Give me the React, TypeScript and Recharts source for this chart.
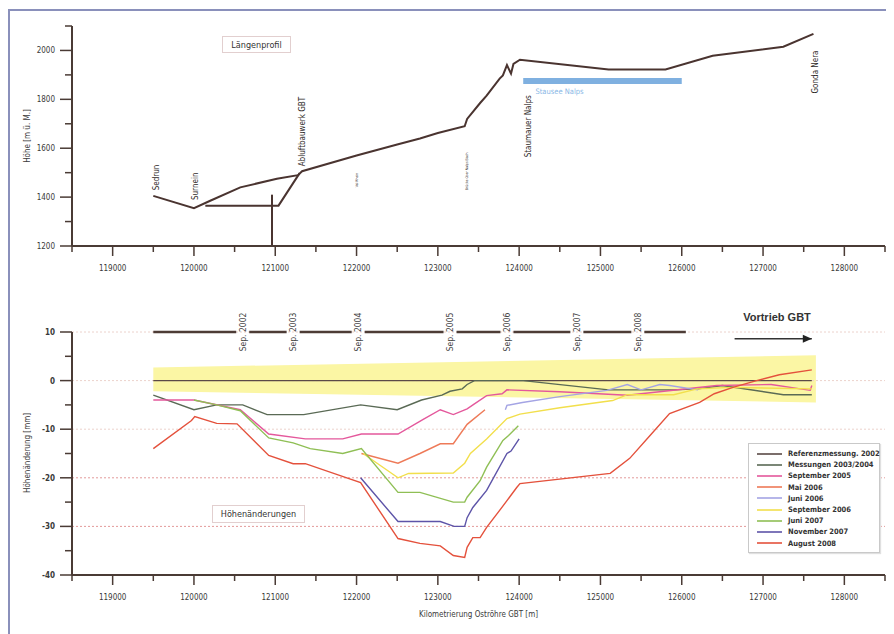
import React from "react";
import {
  ComposedChart,
  Line,
  Area,
  Scatter,
  XAxis,
  YAxis,
  ReferenceLine,
  Legend,
} from "recharts";

const AXIS = "#4a3b35";
const TEXT = "#3a3a3a";
const FONT = "'DejaVu Sans Condensed', 'DejaVu Sans', sans-serif";

// shared km axis
const kmTicks = [
  118500, 119000, 119500, 120000, 120500, 121000, 121500, 122000, 122500, 123000, 123500,
  124000, 124500, 125000, 125500, 126000, 126500, 127000, 127500, 128000, 128500,
];

// ---- Längenprofil ----
const heightTicks = [1200, 1300, 1400, 1500, 1600, 1700, 1800, 1900, 2000, 2100];

const profile: [number, number][] = [
  [119500, 1405], [120000, 1355], [120200, 1385], [120570, 1440], [121020, 1475],
  [121280, 1490], [121330, 1506], [122000, 1570], [122500, 1615], [122780, 1640],
  [123000, 1662], [123330, 1690], [123360, 1720], [123520, 1785], [123600, 1815],
  [123760, 1885], [123800, 1898], [123850, 1940], [123900, 1905], [123930, 1945],
  [124010, 1962], [125100, 1922], [125800, 1922], [126380, 1978], [127250, 2015],
  [127620, 2068],
];
const shaftLine: [number, number][] = [[120140, 1365], [121040, 1365], [121300, 1498]];
const shaftVertical: [number, number][] = [[120960, 1200], [120960, 1410]];
const lakeBar: [number, number][] = [[124050, 1875], [126000, 1875]];

const places = [
  { name: "Sedrun", x: 119545, y: 1428, size: 8 },
  { name: "Surnein", x: 120025, y: 1388, size: 8 },
  { name: "Abluftbauwerk GBT", x: 121340, y: 1526, size: 8 },
  { name: "Val Rhein", x: 122005, y: 1440, size: 3.5 },
  { name: "Brücke über Nalps Bach", x: 123360, y: 1428, size: 3.5 },
  { name: "Staumauer Nalps", x: 124110, y: 1563, size: 8 },
  { name: "Gonda Nera", x: 127640, y: 1824, size: 8 },
];
const lakeLabel = [{ name: "Stausee Nalps", x: 124200, y: 1822 }];

// ---- Höhenänderungen ----
const changeTicks = [-40, -35, -30, -25, -20, -15, -10, -5, 0, 5, 10];
const gridValues = [-30, -20, -10, 0, 10];

const sepMarks = [
  { label: "Sep. 2002", x: 120600 },
  { label: "Sep. 2003", x: 121220 },
  { label: "Sep. 2004", x: 122020 },
  { label: "Sep. 2005", x: 123150 },
  { label: "Sep. 2006", x: 123850 },
  { label: "Sep. 2007", x: 124710 },
  { label: "Sep. 2008", x: 125460 },
];
const timelineStart = 119500;
const timelineEnd = 126050;

const toleranceBand: [number, number, number][] = [
  [119500, -2.2, 2.7],
  [127650, -4.5, 5.2],
];
const vortriebArrow: [number, number][] = [[126650, 8.6], [127600, 8.6]];

const referenz2002: [number, number][] = [[119500, 0], [127600, 0]];
const messungen0304: [number, number][] = [
  [119500, -3], [120000, -6], [120280, -5], [120600, -5], [120900, -7], [121350, -7],
  [122050, -5], [122500, -6], [122800, -4], [123050, -3], [123150, -2.2], [123300, -1.7],
  [123360, -0.8], [123450, 0], [124050, 0], [125100, -1.9], [125900, -1.9], [126200, -1.7],
  [126500, -1], [127250, -2.9], [127600, -2.9],
];
const sep2005: [number, number][] = [
  [119500, -4], [120000, -4], [120570, -6], [120920, -11], [121370, -12], [121830, -12],
  [122060, -11], [122510, -11], [122820, -8], [123030, -6], [123190, -7], [123360, -5.8],
  [123450, -4.8], [123600, -3.1], [123790, -2.7], [123850, -1.9], [124500, -2.3],
  [125330, -3], [126430, -1], [127100, -0.8], [127580, -2], [127600, -1],
];
const mai2006: [number, number][] = [
  [122060, -15], [122510, -17], [122780, -15], [123030, -13], [123190, -13],
  [123360, -9], [123580, -6],
];
const juni2006: [number, number][] = [
  [123830, -6], [123850, -5.1], [124040, -4.5], [124500, -3.3], [125080, -2],
  [125330, -0.8], [125500, -1.9], [125730, -0.8], [125850, -1], [126200, -1.9],
];
const sep2006: [number, number][] = [
  [122080, -15], [122510, -20], [122640, -19.1], [123190, -19], [123330, -17],
  [123400, -15], [123600, -12], [123850, -7.8], [124010, -6.9], [124500, -5.6],
  [125150, -4.1], [125330, -2.9], [125900, -2.9], [126190, -1.7], [126600, -1.4],
  [127600, -1.7],
];
const juni2007: [number, number][] = [
  [120000, -4], [120280, -5], [120570, -6.2], [120920, -11.8], [121220, -12.8],
  [121430, -14], [121830, -15], [122060, -14], [122510, -23], [122780, -23],
  [123190, -25], [123330, -25], [123360, -24], [123520, -20.6], [123600, -17.8],
  [123800, -12.3], [123870, -11.3], [123990, -9.3],
];
const nov2007: [number, number][] = [
  [122050, -20], [122510, -29], [123030, -29], [123200, -30], [123330, -30],
  [123360, -28.2], [123430, -26.1], [123600, -22.6], [123850, -15], [123900, -14.5],
  [124000, -12],
];
const aug2008: [number, number][] = [
  [119500, -14], [119970, -8.2], [120010, -7.4], [120280, -8.8], [120530, -8.9],
  [120920, -15.4], [121220, -17.1], [121370, -17.1], [121880, -20], [122050, -21],
  [122510, -32.5], [122780, -33.5], [123030, -34], [123190, -36], [123330, -36.4],
  [123360, -34.3], [123430, -32.3], [123520, -32.3], [123600, -30.2], [123760, -26.7],
  [123850, -24.7], [123970, -22], [124010, -21.2], [125120, -19.1], [125360, -16],
  [125610, -11.3], [125850, -6.8], [126220, -4.5], [126400, -2.7], [126630, -1.4],
  [126920, 0], [127200, 1.2], [127600, 2.2],
];

const series = [
  { name: "Referenzmessung. 2002", data: referenz2002, color: "#5b4a47" },
  { name: "Messungen 2003/2004", data: messungen0304, color: "#5a6a55" },
  { name: "September 2005", data: sep2005, color: "#e4589c" },
  { name: "Mai 2006", data: mai2006, color: "#ee7a58" },
  { name: "Juni 2006", data: juni2006, color: "#a4a4e4" },
  { name: "September 2006", data: sep2006, color: "#f2df4c" },
  { name: "Juni 2007", data: juni2007, color: "#8fbf55" },
  { name: "November 2007", data: nov2007, color: "#5d54a8" },
  { name: "August 2008", data: aug2008, color: "#e4513c" },
];

const pts = (arr: [number, number][]) => arr.map(([x, y]) => ({ x, y }));

const timeline = (() => {
  const out: { x: number; y: number | null }[] = [{ x: timelineStart, y: 10 }];
  sepMarks.forEach((m) => {
    out.push({ x: m.x - 80, y: 10 }, { x: m.x, y: null }, { x: m.x + 80, y: 10 });
  });
  out.push({ x: timelineEnd, y: 10 });
  return out;
})();

function KmTick(props: any) {
  const { x, y, payload } = props;
  const v = payload.value;
  const major = v % 1000 === 0;
  const labeled = major && v >= 119000 && v <= 128000;
  return (
    <g>
      <line x1={x} x2={x} y1={y} y2={y + (major ? 10 : 6)} stroke={AXIS} strokeWidth={1.5} />
      {labeled && (
        <text x={x} y={y + 25} textAnchor="middle" fontSize={8} fill={TEXT} fontFamily={FONT}>
          {v}
        </text>
      )}
    </g>
  );
}

function makeYTick(isMajor: (v: number) => boolean, bold: boolean) {
  return function YTick(props: any) {
    const { x, y, payload } = props;
    const v = payload.value;
    const major = isMajor(v);
    return (
      <g>
        <line x1={x - (major ? 12 : 7)} x2={x} y1={y} y2={y} stroke={AXIS} strokeWidth={1.5} />
        {major && (
          <text
            x={x - 17}
            y={y}
            dy={3}
            textAnchor="end"
            fontSize={8}
            fontWeight={bold ? 600 : 400}
            fill={TEXT}
            fontFamily={FONT}
          >
            {v}
          </text>
        )}
      </g>
    );
  };
}
const HeightTick = makeYTick((v) => v % 200 === 0 && v <= 2000, false);
const ChangeTick = makeYTick((v) => v % 10 === 0, true);

function AxisTitle({ text, cy }: { text: string; cy: number }) {
  return (
    <text
      x={27}
      y={cy}
      transform={`rotate(-90 27 ${cy})`}
      textAnchor="middle"
      dominantBaseline="central"
      fontSize={8}
      fill={TEXT}
      fontFamily={FONT}
    >
      {text}
    </text>
  );
}

function PlaceLabel(props: any) {
  const { cx, cy, payload } = props;
  return (
    <text
      x={cx}
      y={cy}
      transform={`rotate(-90 ${cx} ${cy})`}
      textAnchor="start"
      dominantBaseline="central"
      fontSize={payload.size}
      fill="#2e2a28"
      fontFamily={FONT}
    >
      {payload.name}
    </text>
  );
}

function LakeLabel(props: any) {
  const { cx, cy, payload } = props;
  return (
    <text x={cx} y={cy} fontSize={7.5} fill="#8ab8e6" fontFamily={FONT}>
      {payload.name}
    </text>
  );
}

function SepLabel(props: any) {
  const { cx, cy, payload } = props;
  return (
    <text
      x={cx}
      y={cy}
      transform={`rotate(-90 ${cx} ${cy})`}
      textAnchor="middle"
      dominantBaseline="central"
      fontSize={8.5}
      fill="#444"
      fontFamily={FONT}
    >
      {payload.label}
    </text>
  );
}

function ArrowDot(props: any) {
  const { cx, cy, index } = props;
  if (index !== vortriebArrow.length - 1) return <g key={index} />;
  return <path key={index} d={`M${cx - 9},${cy - 4} L${cx},${cy} L${cx - 9},${cy + 4} Z`} fill="#222" />;
}

function LegendBox() {
  return (
    <div
      style={{
        border: "1px solid #c9c9c9",
        boxShadow: "1px 1px 1px #e0e0e0",
        background: "#fff",
        padding: "4px 4px 3px 8px",
        width: 132,
        boxSizing: "border-box",
      }}
    >
      {series.map((s) => (
        <div key={s.name} style={{ display: "flex", alignItems: "center", height: 11.2 }}>
          <svg width={25} height={4} style={{ marginRight: 6, flex: "none" }}>
            <line x1={0} x2={25} y1={2} y2={2} stroke={s.color} strokeWidth={1.6} />
          </svg>
          <span
            style={{
              fontSize: 7.5,
              color: "#333",
              fontFamily: FONT,
              fontWeight: 600,
              whiteSpace: "nowrap",
            }}
          >
            {s.name}
          </span>
        </div>
      ))}
    </div>
  );
}

const boxStyle: React.CSSProperties = {
  position: "absolute",
  border: "1px solid #e2cfcf",
  background: "#fff",
  fontFamily: FONT,
  fontSize: 9,
  color: "#333",
  display: "flex",
  alignItems: "center",
  justifyContent: "center",
  boxSizing: "border-box",
};

export default function App() {
  return (
    <div
      style={{
        position: "relative",
        width: 894,
        height: 634,
        margin: "-8px 0 0 -8px",
        overflow: "hidden",
        background: "#fff",
      }}
    >
      <div
        style={{
          position: "absolute",
          left: 8,
          top: 9,
          width: 900,
          height: 640,
          border: "2px solid #8a90bb",
        }}
      />

      <div style={{ position: "absolute", left: 0, top: 0 }}>
        <ComposedChart width={894} height={290} margin={{ top: 26, right: 9, bottom: 14, left: 0 }}>
          <XAxis
            type="number"
            dataKey="x"
            domain={[118500, 128500]}
            ticks={kmTicks}
            interval={0}
            height={30}
            tickSize={0}
            tickMargin={0}
            tick={<KmTick />}
            axisLine={{ stroke: AXIS, strokeWidth: 2 }}
          />
          <YAxis
            type="number"
            dataKey="y"
            domain={[1200, 2100]}
            ticks={heightTicks}
            interval={0}
            width={72}
            tickSize={0}
            tickMargin={0}
            tick={<HeightTick />}
            axisLine={{ stroke: AXIS, strokeWidth: 2 }}
            label={<AxisTitle text="Höhe [m ü. M.]" cy={136} />}
          />
          <Line data={pts(lakeBar)} dataKey="y" stroke="#7fb0e0" strokeWidth={6} dot={false} isAnimationActive={false} />
          <Line data={pts(profile)} dataKey="y" stroke="#4a3430" strokeWidth={2} dot={false} isAnimationActive={false} />
          <Line data={pts(shaftLine)} dataKey="y" stroke="#4a3430" strokeWidth={2} dot={false} isAnimationActive={false} />
          <Line data={pts(shaftVertical)} dataKey="y" stroke="#4a3430" strokeWidth={2} dot={false} isAnimationActive={false} />
          <Scatter data={places} dataKey="y" shape={<PlaceLabel />} isAnimationActive={false} />
          <Scatter data={lakeLabel} dataKey="y" shape={<LakeLabel />} isAnimationActive={false} />
        </ComposedChart>
      </div>

      <div style={{ ...boxStyle, left: 222, top: 36, width: 69, height: 17 }}>Längenprofil</div>

      <div style={{ position: "absolute", left: 0, top: 290 }}>
        <ComposedChart width={894} height={344} margin={{ top: 42, right: 9, bottom: 14, left: 0 }}>
          <XAxis
            type="number"
            dataKey="x"
            domain={[118500, 128500]}
            ticks={kmTicks}
            interval={0}
            height={45}
            tickSize={0}
            tickMargin={0}
            tick={<KmTick />}
            axisLine={{ stroke: AXIS, strokeWidth: 2 }}
            label={{
              value: "Kilometrierung Oströhre GBT [m]",
              position: "insideBottom",
              offset: 3,
              fontSize: 8,
              fill: TEXT,
              fontFamily: FONT,
            }}
          />
          <YAxis
            type="number"
            dataKey="y"
            domain={[-40, 10]}
            ticks={changeTicks}
            interval={0}
            width={72}
            tickSize={0}
            tickMargin={0}
            tick={<ChangeTick />}
            axisLine={{ stroke: AXIS, strokeWidth: 2 }}
            label={<AxisTitle text="Höhenänderung [mm]" cy={163} />}
          />
          {gridValues.map((v) => (
            <ReferenceLine
              key={v}
              y={v}
              stroke={v <= -20 ? "#e39a9a" : "#ecd2cc"}
              strokeDasharray="2 2"
              strokeWidth={1}
            />
          ))}
          <Area
            data={toleranceBand.map(([x, lo, hi]) => ({ x, range: [lo, hi] }))}
            dataKey="range"
            stroke="none"
            fill="#fbf6a4"
            fillOpacity={1}
            legendType="none"
            isAnimationActive={false}
          />
          <Line
            data={timeline}
            dataKey="y"
            stroke="#4d3c36"
            strokeWidth={2.5}
            dot={false}
            connectNulls={false}
            legendType="none"
            isAnimationActive={false}
          />
          <Scatter
            data={sepMarks.map((m) => ({ x: m.x, y: 10, label: m.label }))}
            dataKey="y"
            shape={<SepLabel />}
            legendType="none"
            isAnimationActive={false}
          />
          <Line
            data={pts(vortriebArrow)}
            dataKey="y"
            stroke="#333"
            strokeWidth={1.5}
            dot={<ArrowDot />}
            legendType="none"
            isAnimationActive={false}
          />
          {series.map((s) => (
            <Line
              key={s.name}
              name={s.name}
              data={pts(s.data)}
              dataKey="y"
              stroke={s.color}
              strokeWidth={1.4}
              dot={false}
              isAnimationActive={false}
            />
          ))}
          <Legend
            layout="vertical"
            align="center"
            verticalAlign="middle"
            content={<LegendBox />}
            wrapperStyle={{ left: 748, top: 153, width: 132 }}
          />
        </ComposedChart>
      </div>

      <div
        style={{
          position: "absolute",
          left: 735,
          top: 311,
          width: 84,
          textAlign: "center",
          fontFamily: "'Liberation Sans', Arial, sans-serif",
          fontWeight: 700,
          fontSize: 11,
          color: "#333",
        }}
      >
        Vortrieb GBT
      </div>
      <div style={{ ...boxStyle, left: 212, top: 505, width: 93, height: 18 }}>Höhenänderungen</div>
    </div>
  );
}
